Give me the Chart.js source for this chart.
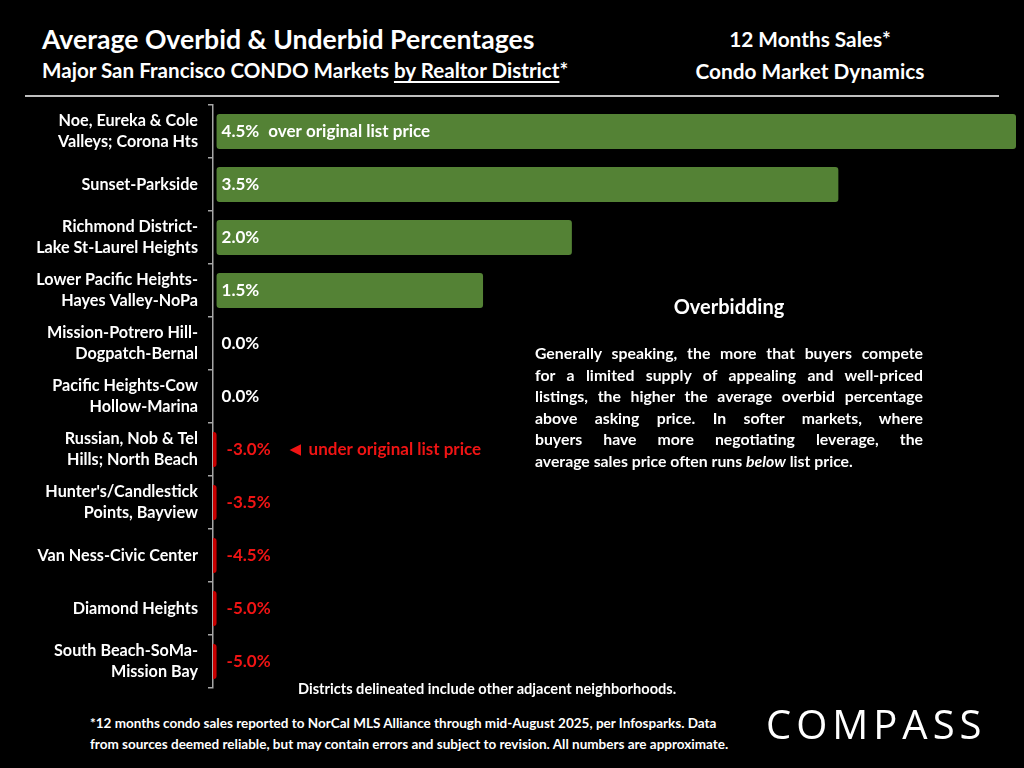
<!DOCTYPE html>
<html>
<head>
<meta charset="utf-8">
<script src="https://cdn.jsdelivr.net/npm/chart.js@4.4.1/dist/chart.umd.min.js"></script>
<style>
  html, body { margin: 0; padding: 0; background: #000; }
  body { width: 1024px; height: 768px; position: relative; overflow: hidden; font-family: Lato, "Open Sans", sans-serif; color: #fff; }
  .abs { position: absolute; white-space: nowrap; }
  #title { left: 42px; top: 23px; font-size: 26.6px; font-weight: 700; }
  #subtitle { left: 42px; top: 58px; font-size: 20.6px; font-weight: 700; }
  #subtitle u { text-decoration-thickness: 1.5px; text-underline-offset: 3px; }
  #rightHead { left: 640px; top: 23px; width: 340px; text-align: center; font-size: 20.8px; font-weight: 700; line-height: 32px; }
  #rule { left: 25px; top: 95px; width: 974px; height: 2px; background: #bfbfbf; }
  #chartWrap { left: 0; top: 95px; width: 1024px; height: 610px; }
  #noteHead { left: 535px; top: 294px; width: 388px; text-align: center; font-size: 20px; font-weight: 700; }
  #note { left: 535px; top: 342px; width: 388px; font-size: 15.8px; font-weight: 700; line-height: 21.6px; white-space: normal; }
  #note div { text-align: justify; text-align-last: justify; }
  #note div.last { text-align-last: left; }
  #districts { left: 298px; top: 680px; font-size: 14.6px; font-weight: 700; }
  #foot { left: 90px; top: 713px; font-size: 13.5px; font-weight: 700; line-height: 21px; }
  #logo { left: 766px; top: 696px; font-size: 40px; font-weight: 400; letter-spacing: 5px; font-family: "Open Sans", sans-serif; }
</style>
</head>
<body>
<div id="title" class="abs">Average Overbid &amp; Underbid Percentages</div>
<div id="subtitle" class="abs">Major San Francisco CONDO Markets <u>by Realtor District</u>*</div>
<div id="rightHead" class="abs">12 Months Sales*<br>Condo Market Dynamics</div>
<div id="rule" class="abs"></div>
<div id="chartWrap" class="abs"><canvas id="overbidChart"></canvas></div>
<div id="noteHead" class="abs">Overbidding</div>
<div id="note" class="abs">
  <div>Generally speaking, the more that buyers compete</div>
  <div>for a limited supply of appealing and well-priced</div>
  <div>listings, the higher the average overbid percentage</div>
  <div>above asking price. In softer markets, where</div>
  <div>buyers have more negotiating leverage, the</div>
  <div class="last">average sales price often runs <i>below</i> list price.</div>
</div>
<div id="districts" class="abs">Districts delineated include other adjacent neighborhoods.</div>
<div id="foot" class="abs">*12 months condo sales reported to NorCal MLS Alliance through mid-August 2025, per Infosparks. Data<br>from sources deemed reliable, but may contain errors and subject to revision. All numbers are approximate.</div>
<div id="logo" class="abs">COMPASS</div>

<script>
// --- Chart data ---
const districts = [
    ['Noe, Eureka & Cole', 'Valleys; Corona Hts'],
    'Sunset-Parkside',
    ['Richmond District-', 'Lake St-Laurel Heights'],
    ['Lower Pacific Heights-', 'Hayes Valley-NoPa'],
    ['Mission-Potrero Hill-', 'Dogpatch-Bernal'],
    ['Pacific Heights-Cow', 'Hollow-Marina'],
    ['Russian, Nob & Tel', 'Hills; North Beach'],
    ["Hunter's/Candlestick", 'Points, Bayview'],
    'Van Ness-Civic Center',
    'Diamond Heights',
    ['South Beach-SoMa-', 'Mission Bay']
];
const overbidPct = [4.5, 3.5, 2.0, 1.5, 0.0, 0.0, -3.0, -3.5, -4.5, -5.0, -5.0];

const GREEN = '#548235';
const RED_BAR = '#c80000';
const RED_TEXT = '#f01414';
const FONT = 'Lato, "Open Sans", sans-serif';

// draws the value text next to the axis, plus the two callouts
const valueLabels = {
    id: 'valueLabels',
    afterDatasetsDraw(chart) {
        const ctx = chart.ctx;
        const meta = chart.getDatasetMeta(0);
        const x0 = chart.scales.x.getPixelForValue(0);
        const firstNeg = overbidPct.findIndex(v => v < 0);
        ctx.save();
        ctx.font = `bold 17px ${FONT}`;
        ctx.textBaseline = 'middle';
        ctx.textAlign = 'left';
        meta.data.forEach((bar, i) => {
            const v = overbidPct[i];
            const txt = `${v.toFixed(1)}%`;
            const x = v < 0 ? x0 + 10 : x0 + 5;
            ctx.fillStyle = v < 0 ? RED_TEXT : '#ffffff';
            ctx.fillText(txt, x, bar.y);
            const w = ctx.measureText(txt).width;
            if (i === 0) {
                ctx.fillText('over original list price', x + w + 9, bar.y);
            }
            if (i === firstNeg) {
                ctx.font = `bold 15px "DejaVu Sans", sans-serif`;
                ctx.fillText('\u25C0', x + w + 19, bar.y + 1);
                ctx.font = `bold 17px ${FONT}`;
                ctx.fillText('under original list price', x + w + 38, bar.y);
            }
        });
        ctx.restore();
    }
};

new Chart(document.getElementById('overbidChart').getContext('2d'), {
    type: 'bar',
    data: {
        labels: districts,
        datasets: [{
            data: overbidPct,
            backgroundColor: overbidPct.map(v => v < 0 ? RED_BAR : GREEN),
            borderWidth: 0,
            borderRadius: 3,
            borderSkipped: false,
            barPercentage: 0.66,
            categoryPercentage: 1.0
        }]
    },
    options: {
        indexAxis: 'y',
        responsive: true,
        maintainAspectRatio: false,
        animation: false,
        layout: { padding: { top: 10, right: 8, bottom: 17, left: 0 } },
        scales: {
            x: { display: false, min: -0.02, max: 4.5 },
            y: {
                afterFit: (scale) => {
                    scale.width = 213;
                    scale.paddingTop = 0;
                    scale.paddingBottom = 0;
                },
                grid: { offset: true, drawOnChartArea: false, tickLength: 5, color: '#a6a6a6', lineWidth: 1.5 },
                border: { color: '#a6a6a6', width: 1.5 },
                ticks: {
                    color: '#ffffff',
                    padding: 10,
                    font: { family: FONT, size: 16.2, weight: 'bold', lineHeight: 1.3 }
                }
            }
        },
        plugins: {
            legend: { display: false },
            tooltip: { enabled: false }
        }
    },
    plugins: [valueLabels]
});
</script>
</body>
</html>
